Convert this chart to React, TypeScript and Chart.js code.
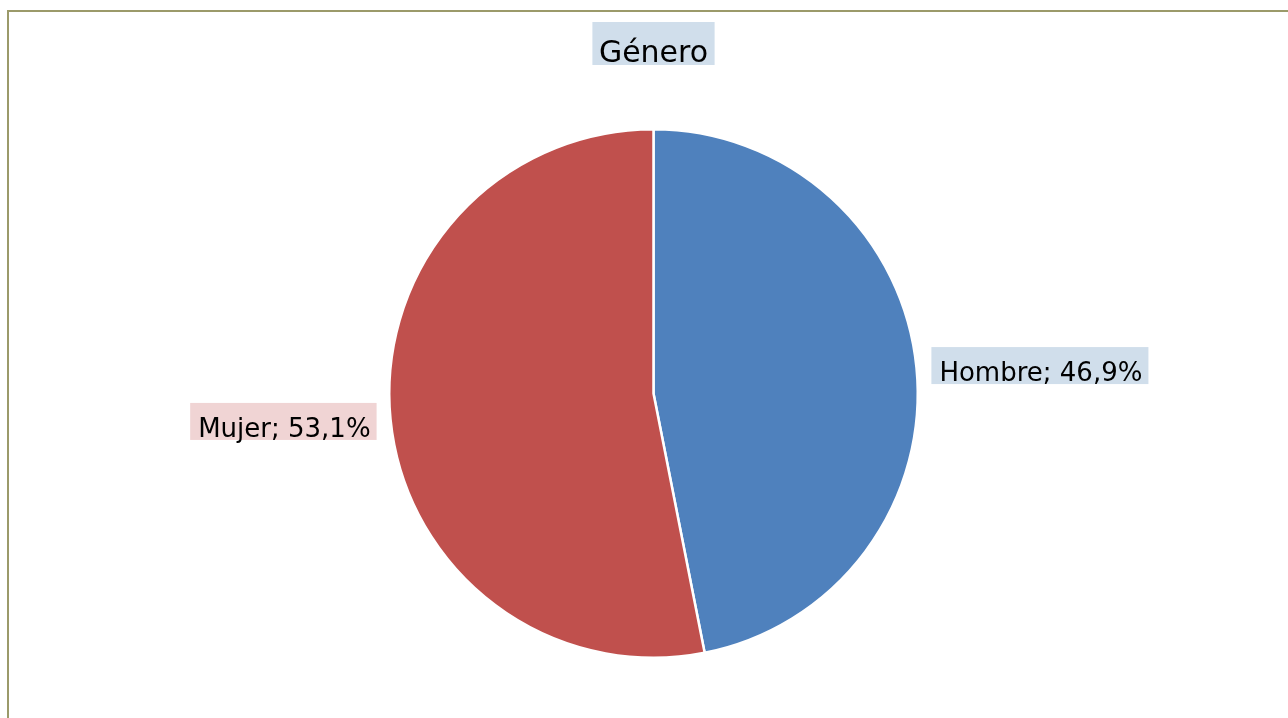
import React, { useEffect, useRef } from "react";
import { Chart, registerables } from "chart.js";

Chart.register(...registerables);

const chartTitle = "Género";
const categories = ["Hombre", "Mujer"];
const percentages = [46.9, 53.1];
const sliceColors = ["#4F81BD", "#C0504D"];
const labelFills = ["#D0DEEB", "#F0D4D4"];

const FONT = '"DejaVu Sans", Verdana, sans-serif';

const framePlugin = {
  id: "frame",
  beforeDraw(chart: any) {
    const ctx = chart.ctx;
    ctx.save();
    ctx.fillStyle = "#FFFFFF";
    ctx.fillRect(0, 0, chart.width, chart.height);
    ctx.fillStyle = "#9B9A6A";
    ctx.fillRect(7, 10, chart.width, 2);
    ctx.fillRect(7, 10, 2, chart.height);
    ctx.restore();
  },
};

const titlePlugin = {
  id: "boxedTitle",
  afterDraw(chart: any) {
    const ctx = chart.ctx;
    const meta = chart.getDatasetMeta(0);
    const cx = meta.data[0].x;
    ctx.save();
    ctx.font = `30px ${FONT}`;
    const w = ctx.measureText(chartTitle).width;
    const baseline = 61.5;
    const left = cx - w / 2;
    ctx.fillStyle = "#D0DEEB";
    ctx.fillRect(left - 6.5, baseline - 39.5, w + 13, 43);
    ctx.fillStyle = "#000000";
    ctx.textBaseline = "alphabetic";
    ctx.textAlign = "left";
    ctx.fillText(chartTitle, left, baseline);
    ctx.restore();
  },
};

const labelPlugin = {
  id: "sliceLabels",
  afterDraw(chart: any) {
    const ctx = chart.ctx;
    const meta = chart.getDatasetMeta(0);
    ctx.save();
    ctx.font = `26px ${FONT}`;
    ctx.textBaseline = "alphabetic";
    ctx.textAlign = "left";
    meta.data.forEach((arc: any, i: number) => {
      const { x, y, startAngle, endAngle, outerRadius } = arc.getProps(
        ["x", "y", "startAngle", "endAngle", "outerRadius"],
        true
      );
      const mid = (startAngle + endAngle) / 2;
      const r = outerRadius + 23;
      const ax = x + Math.cos(mid) * r;
      const ay = y + Math.sin(mid) * r;
      const text = `${categories[i]}; ${percentages[i].toFixed(1).replace(".", ",")}%`;
      const w = ctx.measureText(text).width;
      const padL = 8;
      const padR = 6;
      const boxW = w + padL + padR;
      const boxH = 37;
      let boxLeft: number;
      if (Math.cos(mid) >= 0) {
        boxLeft = ax - 8;
      } else {
        boxLeft = ax + 9 - boxW;
      }
      const boxTop = ay - boxH / 2;
      ctx.fillStyle = labelFills[i];
      ctx.fillRect(boxLeft, boxTop, boxW, boxH);
      ctx.fillStyle = "#000000";
      ctx.fillText(text, boxLeft + padL, boxTop + 34);
    });
    ctx.restore();
  },
};

export default function App() {
  const canvasRef = useRef<HTMLCanvasElement | null>(null);

  useEffect(() => {
    if (!canvasRef.current) return;
    const chart = new Chart(canvasRef.current, {
      type: "pie",
      data: {
        labels: categories,
        datasets: [
          {
            data: percentages,
            backgroundColor: sliceColors,
            borderColor: "#FFFFFF",
            borderWidth: 2.5,
          },
        ],
      },
      options: {
        responsive: false,
        animation: false,
        events: [],
        layout: {
          padding: { left: 388, top: 128, right: 369, bottom: 59 },
        },
        plugins: {
          legend: { display: false },
          title: { display: false },
          tooltip: { enabled: false },
        },
      },
      plugins: [framePlugin, titlePlugin, labelPlugin],
    });
    return () => chart.destroy();
  }, []);

  return (
    <div
      style={{
        position: "fixed",
        left: 0,
        top: 0,
        width: 1288,
        height: 718,
        background: "#FFFFFF",
      }}
    >
      <canvas
        ref={canvasRef}
        width={1288}
        height={718}
        style={{ display: "block", width: 1288, height: 718 }}
      />
    </div>
  );
}
